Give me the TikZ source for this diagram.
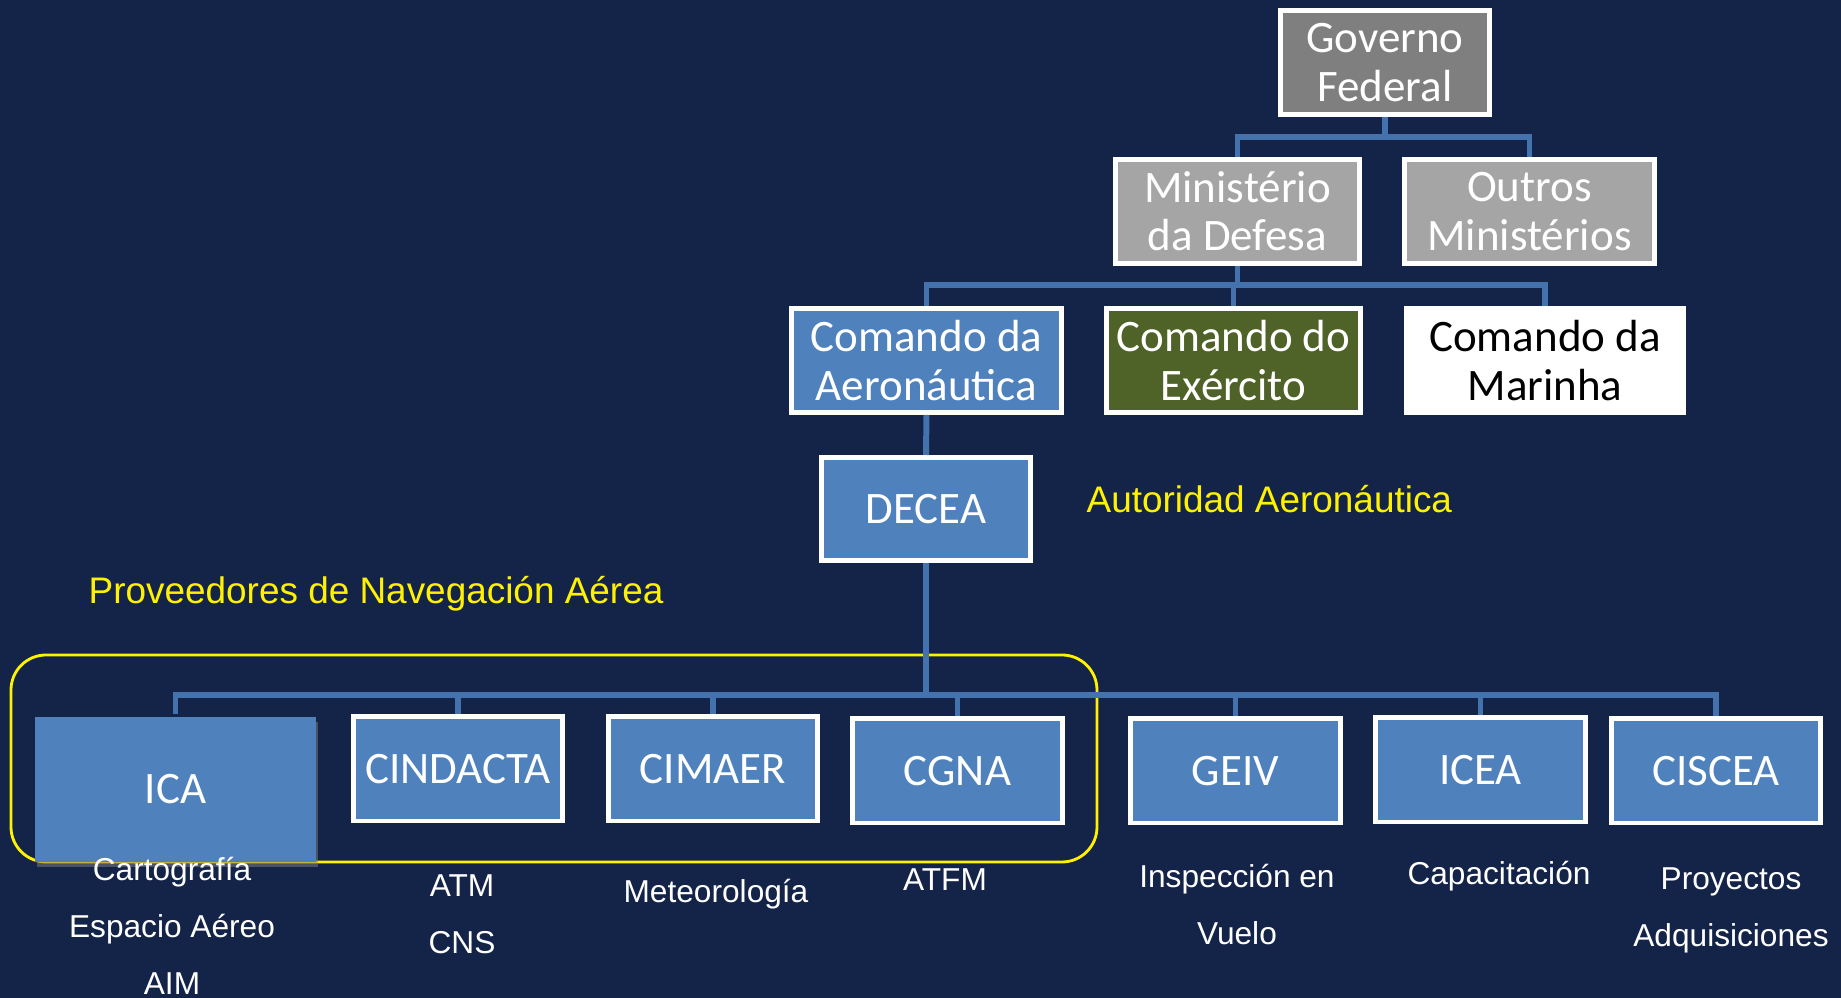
\documentclass[tikz,border=0pt]{standalone}
\usepackage{fontspec}
\setmainfont{Liberation Sans}
\newfontfamily\boxfont{Carlito}
\usetikzlibrary{shadows}
\definecolor{bgnavy}{RGB}{20,36,73}
\definecolor{unitblue}{RGB}{79,129,189}
\definecolor{linkblue}{RGB}{68,114,172}
\definecolor{govgray}{RGB}{127,127,127}
\definecolor{mingray}{RGB}{165,165,165}
\definecolor{armyolive}{RGB}{79,98,40}
\tikzstyle{box} = [rectangle, draw=white, line width=1.4pt, fill=unitblue,
    text=white, align=center, inner sep=0pt, minimum height=1.04cm,
    font=\boxfont\fontsize{12.8}{13.7}\selectfont]
\tikzstyle{unit} = [box, minimum width=2.09cm]
\tikzstyle{line} = [draw, linkblue, line width=1.7pt]
\tikzstyle{task} = [text=white, align=center, font=\fontsize{9}{16.2}\selectfont]
\tikzstyle{note} = [text=yellow, anchor=west, inner sep=0pt, font=\fontsize{10.5}{12}\selectfont]
\begin{document}
\begin{tikzpicture}[x=0.01cm, y=-0.01cm]
    \fill [bgnavy] (0,0) rectangle (1841,998);
    \useasboundingbox (0,0) rectangle (1841,998);
    % Place nodes
    \node [box, fill=govgray, minimum width=2.09cm] (gov) at (1385,62.5) {Governo\\Federal};
    \node [box, fill=mingray, minimum width=2.44cm] (defesa) at (1237.5,211.5) {Ministério\\da Defesa};
    \node [box, fill=mingray, minimum width=2.50cm] (outros) at (1529.5,211.5) {Outros\\Ministérios};
    \node [box, minimum width=2.70cm] (aer) at (926.5,360.5) {Comando da\\Aeronáutica};
    \node [box, fill=armyolive, minimum width=2.54cm] (exe) at (1233.5,360.5) {Comando do\\Exército};
    \node [box, fill=white, text=black, minimum width=2.77cm] (mar) at (1545,360.5) {Comando da\\Marinha};
    \node [unit, minimum height=1.03cm] (decea) at (926,509) {DECEA};
    \node [note] (autoridad) at (1086,499) {Autoridad Aeronáutica};
    \node [note] (proveedores) at (88,594) {Proveedores de Navegación Aérea};

    \draw [yellow, line width=0.8pt, rounded corners=0.35cm] (11,655) rectangle (1097,862);

    \node [box, draw=none, minimum width=2.81cm, minimum height=1.45cm,
        drop shadow={shadow xshift=0.02cm, shadow yshift=-0.05cm, opacity=0.5}] (ica) at (175.5,789.5) {ICA};
    \node [unit] (cindacta) at (458,769) {CINDACTA};
    \node [unit] (cimaer) at (713,769) {CIMAER};
    \node [unit] (cgna) at (957.5,771) {CGNA};
    \node [unit] (geiv) at (1235.5,771) {GEIV};
    \node [unit] (icea) at (1480.5,770) {ICEA};
    \node [unit] (ciscea) at (1716,771) {CISCEA};

    \node [task] (icatask) at (172,926) {Cartografía\\Espacio Aéreo\\AIM};
    \node [task] (cindtask) at (462,914) {ATM\\CNS};
    \node [task] (cimtask) at (716,894) {Meteorología};
    \node [task] (cgnatask) at (945,880) {ATFM};
    \node [task] (geivtask) at (1237,904.5) {Inspección en\\Vuelo};
    \node [task] (iceatask) at (1499,876) {Capacitación};
    \node [task] (cisctask) at (1731,910) {Proyectos\\Adquisiciones};

    % Draw edges
    \path [line] (gov.south) -- ++(0,20) -| (defesa.north);
    \path [line] (gov.south) -- ++(0,20) -| (outros.north);
    \path [line] (defesa.south) -- ++(0,19) -| (aer.north);
    \path [line] (defesa.south) -- ++(0,19) -| (exe.north);
    \path [line] (defesa.south) -- ++(0,19) -| (mar.north);
    \path [line] (aer.south) -- (decea.north);
    \foreach \unitname in {ica,cindacta,cimaer,cgna,geiv,icea,ciscea}
        \path [line] (decea.south) -- ++(0,132) -| (\unitname.north);
\end{tikzpicture}
\end{document}
